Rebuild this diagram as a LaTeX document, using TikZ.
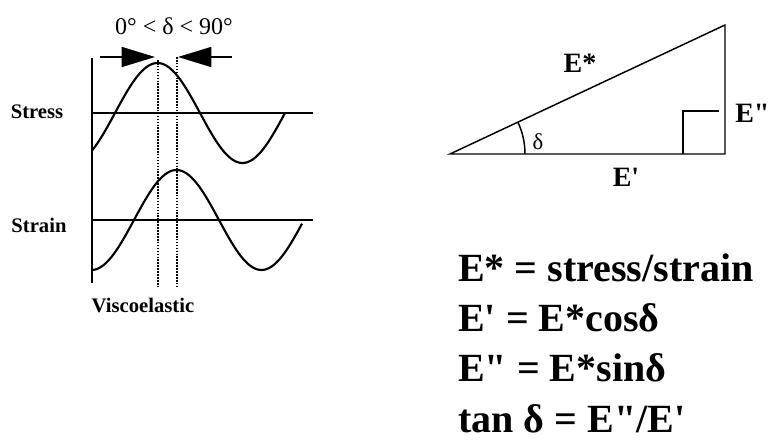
\documentclass[tikz,border=0pt]{standalone}
\usepackage{fontspec}
\setmainfont{Liberation Serif}[Ligatures=TeXOff]
\usetikzlibrary{arrows.meta}

\begin{document}
\begin{tikzpicture}[x=0.75pt, y=-0.75pt,
    wave/.style={line width=1.6pt},
    axis/.style={line width=1.4pt},
    guide/.style={dash pattern=on 1.2pt off 1pt, line width=1.5pt},
    gaparrow/.style={-{Triangle[length=25pt, width=15pt]}, line width=1.2pt},
    side/.style={line width=1.1pt},
    curvelabel/.style={font=\fontsize{15.5}{18}\selectfont\bfseries},
    sidelabel/.style={font=\fontsize{21}{24}\selectfont\bfseries},
    eqn/.style={anchor=base west, inner sep=0pt, font=\fontsize{30}{36}\selectfont\bfseries}
]
    \useasboundingbox (0,0) rectangle (771,441);

    % Stress and strain curves
    \draw[axis] (92,58) -- (92,283);
    \draw[axis] (92,113) -- (313,113);
    \draw[axis] (92,220) -- (313,220);
    \draw[wave] plot[domain=92:285, samples=90, smooth] (\x, {113-50*sin(2.1176*(\x-115))});
    \draw[wave] plot[domain=92:302, samples=90, smooth] (\x, {220-50*sin(2.1176*(\x-134))});
    \node[curvelabel] (stress) at (37,112) {Stress};
    \node[curvelabel] (strain) at (39,225) {Strain};
    \node[curvelabel] (visco) at (143,305) {Viscoelastic};

    % Phase lag
    \draw[guide] (157.5,60) -- (157.5,287);
    \draw[guide] (176.5,57) -- (176.5,287);
    \coordinate (lagL) at (100,57);
    \coordinate (lagLtip) at (155,57);
    \coordinate (lagR) at (232,57);
    \coordinate (lagRtip) at (178,57);
    \draw[gaparrow] (lagL) -- (lagLtip);
    \draw[gaparrow] (lagR) -- (lagRtip);
    \node[font=\fontsize{18}{21}\selectfont] (lag) at (174,26) {0° < δ < 90°};

    % Modulus triangle
    \coordinate (O) at (450,154);
    \coordinate (P) at (725,154);
    \coordinate (Q) at (725,25);
    \draw[side] (O) -- (P) -- (Q) -- cycle;
    \draw[side] (683,154) -- (683,111) -- (719,111);
    \draw[side] (525,154) arc[start angle=0, end angle=25.13, radius=56.25pt];
    \node[font=\fontsize{17}{20}\selectfont] (delta) at (538,142) {δ};
    \node[sidelabel] (Estar) at (580,63) {E*};
    \node[sidelabel] (Eprime) at (626,177) {E'};
    \node[sidelabel, anchor=west, inner sep=0pt] (Edprime) at (735,113) {E"};

    % Relations
    \node[eqn] (eq1) at (458,282) {E* = stress/strain};
    \node[eqn] (eq2) at (458,332) {E' = E*cosδ};
    \node[eqn] (eq3) at (458,382) {E" = E*sinδ};
    \node[eqn] (eq4) at (458,432) {tan δ = E"/E'};
\end{tikzpicture}
\end{document}
